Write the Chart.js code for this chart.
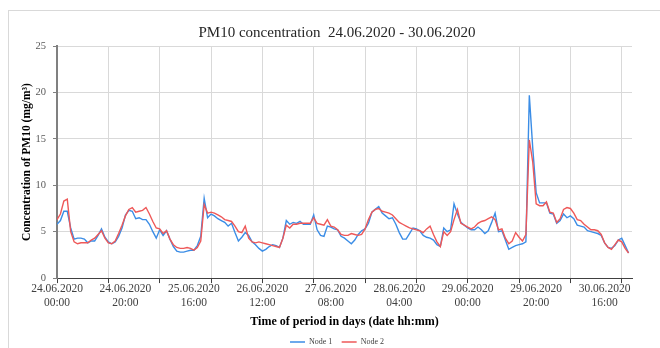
<!DOCTYPE html>
<html>
<head>
<meta charset="utf-8">
<script src="https://cdn.jsdelivr.net/npm/chart.js@4.4.1/dist/chart.umd.min.js"></script>
<style>
  html, body { margin: 0; padding: 0; background: #fff; width: 660px; height: 348px; overflow: hidden; }
  #wrap { position: relative; width: 660px; height: 348px; }
  #frame { position: absolute; left: 8px; top: 10px; width: 700px; height: 400px; border: 1px solid #d9d9d9; box-sizing: border-box; pointer-events: none; }
  canvas { position: absolute; left: 0; top: 0; }
</style>
</head>
<body>
<div id="wrap">
  <div id="frame"></div>
  <canvas id="c" width="660" height="348"></canvas>
</div>
<script>
// ---- data (hourly, 24.06.2020 00:00 .. 30.06.2020 23:00) ----
const node1 = [
  5.8, 6.2, 7.2, 7.2, 5.4, 4.2, 4.3, 4.3, 4.2, 3.8, 4.0, 4.0, 4.6, 5.3, 4.4, 3.9, 3.7, 3.9, 4.5, 5.4,
  6.8, 7.3, 7.2, 6.4, 6.5, 6.3, 6.3, 5.8, 5.0, 4.3, 5.2, 4.6, 5.1, 4.2, 3.4, 2.9, 2.8, 2.8, 2.9, 3.0,
  3.0, 3.5, 4.5, 8.6, 6.5, 6.9, 6.7, 6.4, 6.2, 6.0, 5.6, 5.9, 4.9, 4.0, 4.4, 4.9, 4.6, 3.9, 3.6, 3.2,
  2.9, 3.1, 3.4, 3.6, 3.5, 3.3, 4.3, 6.2, 5.8, 6.0, 5.9, 6.1, 5.8, 5.8, 5.8, 6.8, 5.2, 4.6, 4.5, 5.6,
  5.5, 5.3, 5.2, 4.5, 4.3, 4.0, 3.7, 4.1, 4.7, 5.1, 5.3, 5.9, 7.1, 7.4, 7.7, 7.0, 6.7, 6.4, 6.5, 5.8,
  4.9, 4.2, 4.2, 4.8, 5.4, 5.3, 5.1, 4.6, 4.4, 4.3, 4.1, 3.6, 3.4, 5.4, 5.0, 5.2, 8.0, 6.9, 6.0, 5.7,
  5.4, 5.2, 5.2, 5.5, 5.2, 4.8, 5.1, 6.0, 7.0, 5.0, 5.1, 4.1, 3.1, 3.3, 3.5, 3.6, 3.7, 3.9, 19.7, 14.0,
  9.2, 8.1, 8.1, 8.1, 7.0, 6.9, 5.9, 6.2, 6.9, 6.5, 6.7, 6.4, 5.7, 5.6, 5.5, 5.1, 5.0, 4.9, 4.8, 4.6,
  3.8, 3.3, 3.2, 3.5, 4.1, 4.3, 3.5, 2.7
];
const node2 = [
  6.3, 6.9, 8.3, 8.5, 5.0, 3.9, 3.7, 3.8, 3.8, 3.8, 4.1, 4.3, 4.7, 5.1, 4.3, 3.8, 3.7, 4.0, 4.8, 5.7,
  6.7, 7.4, 7.6, 7.1, 7.2, 7.3, 7.6, 6.9, 6.1, 5.4, 5.3, 4.8, 5.1, 4.2, 3.6, 3.3, 3.2, 3.2, 3.3, 3.2,
  3.0, 3.3, 4.0, 7.9, 7.0, 7.1, 7.0, 6.8, 6.6, 6.3, 6.2, 6.1, 5.6, 5.0, 4.9, 5.6, 4.3, 3.9, 3.8, 3.9,
  3.8, 3.7, 3.6, 3.5, 3.4, 3.3, 4.3, 5.7, 5.4, 5.8, 5.8, 5.9, 5.9, 5.9, 5.9, 6.5, 5.9, 5.8, 5.7, 6.3,
  5.6, 5.5, 5.2, 4.7, 4.6, 4.6, 4.8, 4.7, 4.6, 4.7, 5.3, 6.3, 7.1, 7.4, 7.5, 7.2, 7.1, 7.0, 6.8, 6.4,
  6.0, 5.8, 5.6, 5.4, 5.3, 5.2, 5.1, 4.9, 5.3, 5.6, 4.7, 3.9, 3.4, 5.0, 4.6, 5.0, 6.3, 7.4, 5.9, 5.7,
  5.5, 5.3, 5.5, 5.9, 6.1, 6.2, 6.4, 6.6, 6.3, 5.2, 5.3, 4.3, 3.7, 4.0, 4.9, 4.4, 4.0, 4.7, 14.9, 12.5,
  8.0, 7.8, 7.8, 8.2, 7.1, 7.0, 6.0, 6.4, 7.4, 7.6, 7.5, 7.0, 6.3, 6.2, 5.8, 5.5, 5.2, 5.2, 5.1, 4.7,
  3.8, 3.3, 3.1, 3.6, 4.1, 3.9, 3.2, 2.7
];
const seriesNames = ["Node 1", "Node 2"];
// tick labels (every 20 h) and grid lines (every 15 h), positions in hours from start
const labelHours = [0, 20, 40, 60, 80, 100, 120, 140, 160];
const tickLabels = [
  ["24.06.2020", "00:00"], ["24.06.2020", "20:00"], ["25.06.2020", "16:00"],
  ["26.06.2020", "12:00"], ["27.06.2020", "08:00"], ["28.06.2020", "04:00"],
  ["29.06.2020", "00:00"], ["29.06.2020", "20:00"], ["30.06.2020", "16:00"]
];
const gridHours = [0, 15, 30, 45, 60, 75, 90, 105, 120, 135, 150, 165];
const yTicks = [0, 5, 10, 15, 20, 25];

// ---- chart ----
const SERIF = "'Liberation Serif', 'Times New Roman', serif";
const allTicks = Array.from(new Set(labelHours.concat(gridHours))).sort((a, b) => a - b);
const toPts = arr => arr.map((v, i) => ({ x: i, y: v }));

new Chart(document.getElementById('c'), {
  type: 'line',
  data: {
    datasets: [
      { label: seriesNames[0], data: toPts(node1), borderColor: '#3b8de6', backgroundColor: '#3b8de6',
        borderWidth: 1.4, pointRadius: 0, tension: 0, order: 1 },
      { label: seriesNames[1], data: toPts(node2), borderColor: '#ee5858', backgroundColor: '#ee5858',
        borderWidth: 1.4, pointRadius: 0, tension: 0, order: 0 }
    ]
  },
  options: {
    responsive: false,
    animation: false,
    layout: { padding: { top: 10, left: 14, right: 0, bottom: -8 } },
    plugins: {
      tooltip: { enabled: false },
      title: {
        display: true,
        text: 'PM10 concentration  24.06.2020 - 30.06.2020',
        font: { family: SERIF, size: 15, weight: 'normal' },
        color: '#262626',
        padding: { top: 14, bottom: 4 }
      },
      legend: {
        position: 'bottom',
        labels: {
          usePointStyle: true, pointStyle: 'line', pointStyleWidth: 15, boxHeight: 8,
          font: { family: SERIF, size: 8 }, color: '#404040', padding: 9.3,
          sort: (a, b) => a.datasetIndex - b.datasetIndex
        }
      }
    },
    scales: {
      x: {
        type: 'linear', min: 0, max: 168,
        afterBuildTicks: s => { s.ticks = allTicks.map(v => ({ value: v })); },
        ticks: {
          autoSkip: false, maxRotation: 0, minRotation: 0, padding: -0.7,
          font: { family: SERIF, size: 11.5, lineHeight: 1.17 }, color: '#404040',
          callback: v => { const i = labelHours.indexOf(v); return i >= 0 ? tickLabels[i] : ''; }
        },
        grid: {
          color: c => (c.tick && gridHours.includes(c.tick.value)) ? '#d9d9d9' : 'rgba(0,0,0,0)',
          tickColor: c => (c.tick && gridHours.includes(c.tick.value)) ? '#404040' : 'rgba(0,0,0,0)',
          tickLength: 5, lineWidth: 1
        },
        border: { color: '#404040', width: 1 },
        title: {
          display: true, text: 'Time of period in days (date hh:mm)',
          font: { family: SERIF, size: 12, weight: 'bold' }, color: '#000',
          padding: { top: 5.7, bottom: 0 }
        }
      },
      y: {
        min: 0, max: 25,
        afterBuildTicks: s => { s.ticks = yTicks.map(v => ({ value: v })); },
        afterFit: s => { s.width = 43; },
        ticks: { font: { family: SERIF, size: 10.5 }, color: '#595959', padding: 7 },
        grid: { color: '#d9d9d9', tickColor: '#808080', tickLength: 4, lineWidth: 1 },
        border: { color: '#808080', width: 2 },
        title: {
          display: true, text: 'Concentration of PM10 (mg/m³)',
          font: { family: SERIF, size: 11.5, weight: 'bold' }, color: '#000',
          padding: { top: 6, bottom: 2 }
        }
      },
      yR: {
        position: 'right', display: true,
        grid: { display: false }, ticks: { display: false }, border: { display: false },
        afterFit: s => { s.width = 28; }
      }
    }
  }
});
</script>
</body>
</html>
